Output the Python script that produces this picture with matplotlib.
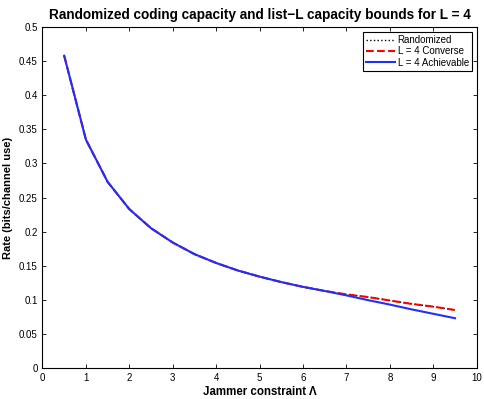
import numpy as np
from matplotlib import pyplot as plt

plt.rcParams['font.family'] = ['Liberation Sans', 'DejaVu Sans']

# jammer constraint values
lam = [0.5, 1.0, 1.5, 2.0, 2.5, 3.0, 3.5, 4.0, 4.5, 5.0,
       5.5, 6.0, 6.5, 7.0, 7.5, 8.0, 8.5, 9.0, 9.5]

# shared part of all three curves (up to 6.5)
common = [0.458, 0.335, 0.273, 0.233, 0.205, 0.184, 0.167, 0.154, 0.143,
          0.134, 0.126, 0.119, 0.113]
randomized = common + [0.108, 0.104, 0.099, 0.094, 0.090, 0.085]
converse = common + [0.108, 0.104, 0.099, 0.094, 0.090, 0.085]
achievable = common + [0.1065, 0.0995, 0.093, 0.086, 0.0795, 0.073]

fig = plt.figure(figsize=(4.85, 3.99), dpi=100)
ax = fig.add_axes([0.0876, 0.0777, 0.8954, 0.8543])

ax.plot(lam, randomized, color='black', linestyle=':', linewidth=1.0, label='Randomized')
ax.plot(lam, converse, color='red', linestyle='--', linewidth=1.5, label='L = 4 Converse')
ax.plot(lam, achievable, color='#1f2fff', linestyle='-', linewidth=1.5, label='L = 4 Achievable')

ax.set_xlim(0, 10)
ax.set_ylim(0, 0.5)
ax.set_xticks(np.arange(0, 11, 1))
ax.set_yticks(np.arange(0, 0.55, 0.05))
ax.set_yticklabels(['0', '0.05', '0.1', '0.15', '0.2', '0.25', '0.3', '0.35', '0.4', '0.45', '0.5'])
ax.tick_params(direction='in', top=True, right=True, labelsize=7, length=3, width=0.6)
for s in ax.spines.values():
    s.set_linewidth(0.8)

ax.set_title('Randomized coding capacity and list\u2212L capacity bounds for L = 4',
             fontsize=9.8, fontweight='bold', pad=6)
ax.set_xlabel('Jammer constraint \u039b', fontsize=8.3, fontweight='bold', labelpad=2)
ax.set_ylabel('Rate (bits/channel use)', fontsize=8, fontweight='bold', labelpad=4)

leg = ax.legend(loc='upper right', fontsize=7, handlelength=3.0, fancybox=False,
                edgecolor='black', framealpha=1, borderpad=0.3, labelspacing=0.15,
                handletextpad=0.3, borderaxespad=0.5)
leg.get_frame().set_linewidth(0.8)

fig.savefig('out.png', dpi=100)
